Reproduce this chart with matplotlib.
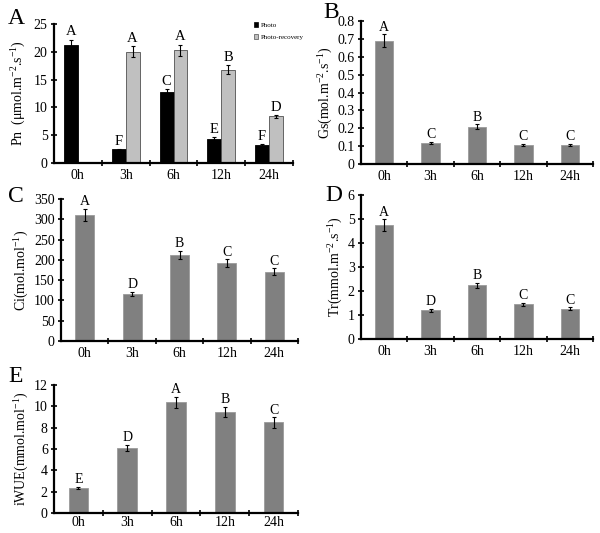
import numpy as np
import matplotlib
matplotlib.use("Agg")
import matplotlib.pyplot as plt
from matplotlib.patches import Patch

plt.rcParams['font.family'] = ['Liberation Serif', 'DejaVu Serif']
plt.rcParams['mathtext.fontset'] = 'custom'
plt.rcParams['mathtext.rm'] = 'Liberation Serif'
plt.rcParams['mathtext.it'] = 'Liberation Serif'
plt.rcParams['mathtext.default'] = 'rm'

categories = ['0h', '3h', '6h', '12h', '24h']

pn_photo = [21.3, 2.45, 12.7, 4.4, 3.2]
pn_photo_err = [0.9, 0.1, 0.65, 0.25, 0.2]
pn_photo_letters = ['A', 'F', 'C', 'E', 'F']
pn_recovery = [np.nan, 20.0, 20.3, 16.75, 8.4]
pn_recovery_err = [np.nan, 1.0, 1.0, 0.8, 0.3]
pn_recovery_letters = ['', 'A', 'A', 'B', 'D']

gs = [0.69, 0.116, 0.209, 0.108, 0.108]
gs_err = [0.035, 0.006, 0.013, 0.006, 0.006]
gs_letters = ['A', 'C', 'B', 'C', 'C']

ci = [311, 116, 212, 192, 171]
ci_err = [15, 6, 10, 9, 8]
ci_letters = ['A', 'D', 'B', 'C', 'C']

tr = [4.75, 1.2, 2.24, 1.45, 1.26]
tr_err = [0.24, 0.06, 0.1, 0.07, 0.06]
tr_letters = ['A', 'D', 'B', 'C', 'C']

iwue = [2.34, 6.12, 10.37, 9.5, 8.49]
iwue_err = [0.12, 0.3, 0.55, 0.46, 0.49]
iwue_letters = ['E', 'D', 'A', 'B', 'C']

W, H = 600, 533
fig = plt.figure(figsize=(6, 5.33), dpi=100)

def px_axes(l, r, b, t):
    return fig.add_axes([l / W, 1 - b / H, (r - l) / W, (b - t) / H])

TICK_FS = 10
LET_FS = 10
YL_FS = 10

def style(ax, ymax, ystep, fmt, xpad=4):
    for s in ['top', 'right']:
        ax.spines[s].set_visible(False)
    for s in ['left', 'bottom']:
        ax.spines[s].set_linewidth(1.6)
    ax.set_xlim(-0.5, 4.5)
    ax.set_ylim(0, ymax)
    yt = np.arange(0, ymax + ystep / 2, ystep)
    ax.set_yticks(yt)
    ax.set_yticklabels([fmt(v) for v in yt], fontsize=TICK_FS)
    ax.tick_params(axis='y', direction='inout', length=5, width=1.2, pad=2)
    ax.set_xticks(np.arange(0.5, 4.6, 1.0))
    ax.set_xticklabels([])
    ax.tick_params(axis='x', which='major', direction='inout', length=5, width=1.2)
    ax.set_xticks(np.arange(5), minor=True)
    ax.set_xticklabels(categories, minor=True, fontsize=TICK_FS)
    ax.tick_params(axis='x', which='minor', length=0, pad=xpad)

def single(ax, vals, errs, letters, ymax, ystep, fmt, ylabel, off, xpad=4):
    x = np.arange(len(vals))
    ax.bar(x, vals, width=0.4, color='#808080', edgecolor='#9a9a9a', linewidth=0.6,
           yerr=errs, error_kw=dict(ecolor='black', elinewidth=0.8, capsize=1.5, capthick=0.8))
    for xi, v, e, l in zip(x, vals, errs, letters):
        ax.text(xi, v + e + off, l, ha='center', va='bottom', fontsize=LET_FS)
    style(ax, ymax, ystep, fmt, xpad)
    ax.set_ylabel(ylabel, fontsize=YL_FS, labelpad=2)

# Panel A
axA = px_axes(54, 293, 163, 24)
x = np.arange(5)
w = 0.29
axA.bar(x - w / 2, pn_photo, width=w, color='black', edgecolor='black', linewidth=0.6,
        yerr=pn_photo_err, error_kw=dict(ecolor='black', elinewidth=0.8, capsize=1.5, capthick=0.8))
axA.bar(x + w / 2, pn_recovery, width=w, color='#c0c0c0', edgecolor='#505050', linewidth=0.6,
        yerr=pn_recovery_err, error_kw=dict(ecolor='black', elinewidth=0.8, capsize=1.5, capthick=0.8))
for xi, v, e, l in zip(x, pn_photo, pn_photo_err, pn_photo_letters):
    axA.text(xi - w / 2, v + e + 0.2, l, ha='center', va='bottom', fontsize=LET_FS + 0.5)
for xi, v, e, l in zip(x, pn_recovery, pn_recovery_err, pn_recovery_letters):
    if l:
        axA.text(xi + w / 2, v + e + 0.2, l, ha='center', va='bottom', fontsize=LET_FS + 0.5)
style(axA, 25, 5, lambda v: f'{v:g}')
axA.set_ylabel(r'Pn  (μmol.m$^{-2}$.s$^{-1}$)', fontsize=YL_FS, labelpad=4)
leg = axA.legend(handles=[Patch(facecolor='black', edgecolor='black', linewidth=0.5, label='Photo'),
                          Patch(facecolor='#c0c0c0', edgecolor='#505050', linewidth=0.5, label='Photo-recovery')],
                 loc='upper right', bbox_to_anchor=(1.07, 1.06), frameon=False, fontsize=5,
                 handlelength=0.7, handleheight=0.7, handletextpad=0.3, labelspacing=0.9)

# Panel B
axB = px_axes(361, 593, 164, 21)
single(axB, gs, gs_err, gs_letters, 0.8, 0.1, lambda v: '0' if v == 0 else f'{v:.1f}',
       r'Gs(mol.m$^{-2}$.s$^{-1}$)', 0.004)

# Panel C
axC = px_axes(61, 298, 341, 199)
single(axC, ci, ci_err, ci_letters, 350, 50, lambda v: f'{v:g}',
       r'Ci(mol.mol$^{-1}$)', 2)

# Panel D
axD = px_axes(361, 593, 339, 195)
single(axD, tr, tr_err, tr_letters, 6, 1, lambda v: f'{v:g}',
       r'Tr(mmol.m$^{-2}$.s$^{-1}$)', 0.03)

# Panel E
axE = px_axes(54, 298, 513, 385)
single(axE, iwue, iwue_err, iwue_letters, 12, 2, lambda v: f'{v:g}',
       r'iWUE(mmol.mol$^{-1}$)', 0.06, xpad=2)

# Panel letters
for lab, px, py in [('A', 8, 18), ('B', 323, 13), ('C', 8, 197), ('D', 325, 196), ('E', 8, 376)]:
    fig.text(px / W, 1 - py / H, lab, fontsize=17, ha='left', va='center')

fig.savefig('out.png', dpi=100)
